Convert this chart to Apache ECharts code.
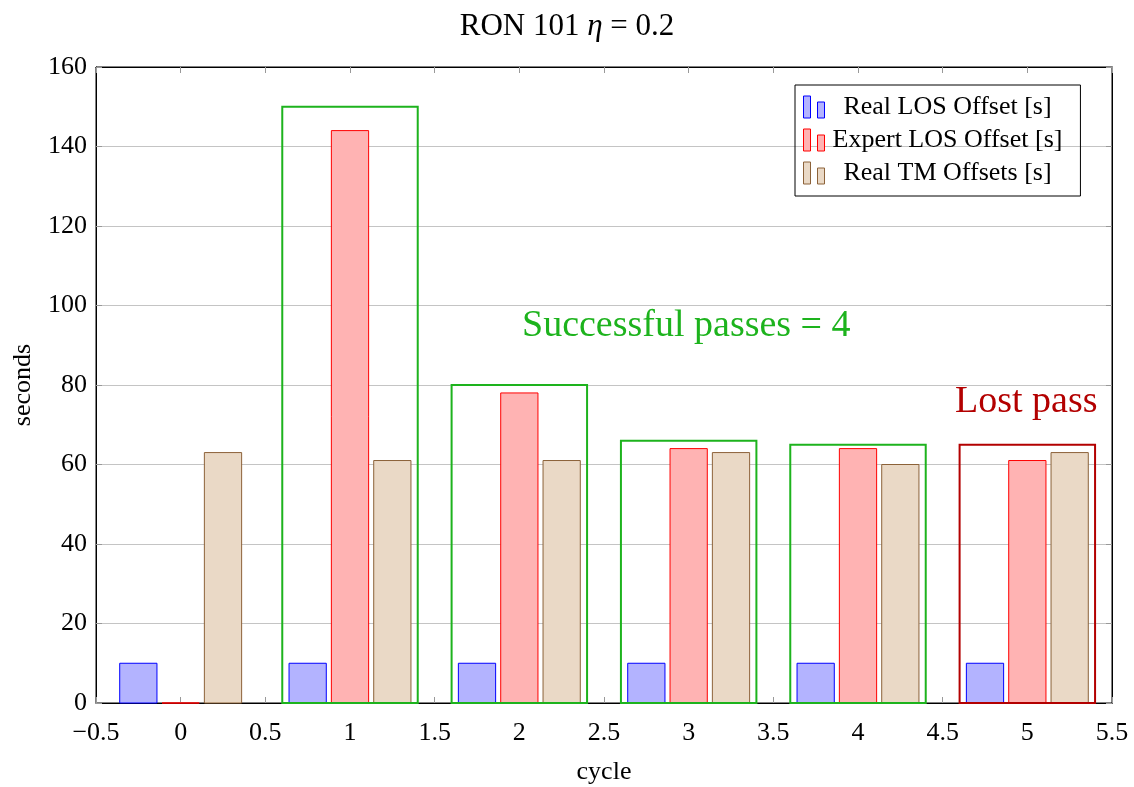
<!DOCTYPE html>
<html><head><meta charset="utf-8">
<script src="https://cdn.jsdelivr.net/npm/echarts@6/dist/echarts.min.js"></script>
<style>html,body{margin:0;padding:0;background:#fff}#c{width:1134px;height:787px}</style>
</head><body><div id="c"></div>
<script>
const cycles = [0, 1, 2, 3, 4, 5];
const realLOS = [10, 10, 10, 10, 10, 10];
const expertLOS = [0, 144, 78, 64, 64, 61];
const realTM = [63, 61, 61, 63, 60, 63];
const successCycles = [1, 2, 3, 4];
const successHeights = [150, 80, 66, 65];
const lostCycles = [5];
const lostHeights = [65];
const seriesNames = ['Real LOS Offset [s]', 'Expert LOS Offset [s]', 'Real TM Offsets [s]'];

const FONT = '"Liberation Serif", "DejaVu Serif", serif';
const BAR_W = 0.22;
const BOX_HALF = 0.4;

function barRender(params, api) {
  const x = api.value(0), y = api.value(1);
  const p0 = api.coord([x - BAR_W / 2, y]);
  const p1 = api.coord([x + BAR_W / 2, 0]);
  return {
    type: 'rect',
    shape: { x: p0[0], y: p0[1], width: p1[0] - p0[0], height: p1[1] - p0[1] },
    style: api.style()
  };
}
function boxRender(color) {
  return function (params, api) {
    const x = api.value(0), y = api.value(1);
    const p0 = api.coord([x - BOX_HALF, y]);
    const p1 = api.coord([x + BOX_HALF, 0]);
    return {
      type: 'rect',
      shape: { x: p0[0], y: p0[1], width: p1[0] - p0[0], height: p1[1] - p0[1] },
      style: { fill: 'none', stroke: color, lineWidth: 2 }
    };
  };
}
const fmt = v => (v < 0 ? '\u2212' + Math.abs(v) : String(v));
const legendIcon = 'path://M0,0H7V22H0Z M14,6H21V22H14Z';
const tickStyle = { show: true, inside: true, length: 6, lineStyle: { color: '#999' } };

const chart = echarts.init(document.getElementById('c'), null, { renderer: 'canvas' });
chart.setOption({
  animation: false,
  backgroundColor: '#fff',
  title: {
    text: 'RON 101 {i|\u03b7} = 0.2',
    left: 'center', top: 6,
    textStyle: {
      fontFamily: FONT, fontSize: 31, fontWeight: 'normal', color: '#000',
      rich: { i: { fontFamily: FONT, fontSize: 31, fontStyle: 'italic', color: '#000' } }
    }
  },
  legend: {
    orient: 'vertical', left: 795, top: 85,
    data: seriesNames,
    icon: legendIcon, itemWidth: 21, itemHeight: 22, itemGap: 7, itemStyle: { borderWidth: 1 },
    borderColor: '#000', borderWidth: 1, padding: [9, 18, 10, 8],
    formatter: n => '{c|' + n + '}',
    textStyle: {
      fontFamily: FONT, fontSize: 26, color: '#000',
      rich: { c: { fontFamily: FONT, fontSize: 26, color: '#000', width: 236, align: 'center' } }
    }
  },
  grid: { left: 96, right: 22, top: 67, bottom: 84, show: true, borderColor: '#000', borderWidth: 1, outerBoundsMode: 'none', containLabel: false },
  xAxis: [{
    type: 'value', min: -0.5, max: 5.5, interval: 0.5, position: 'bottom',
    name: 'cycle', nameLocation: 'middle', nameGap: 56,
    nameTextStyle: { fontFamily: FONT, fontSize: 26, color: '#000' },
    axisLine: { show: true, onZero: false, lineStyle: { color: '#000' } },
    axisTick: tickStyle,
    axisLabel: { fontFamily: FONT, fontSize: 26, color: '#000', margin: 17, formatter: fmt },
    splitLine: { show: false }
  }, {
    type: 'value', min: -0.5, max: 5.5, interval: 0.5, position: 'top',
    axisLine: { show: true, onZero: false, lineStyle: { color: '#000' } },
    axisTick: tickStyle,
    axisLabel: { show: false }, splitLine: { show: false }
  }],
  yAxis: [{
    type: 'value', min: 0, max: 160, interval: 20, position: 'left',
    name: 'seconds', nameLocation: 'middle', nameGap: 60, nameRotate: 90,
    nameTextStyle: { fontFamily: FONT, fontSize: 26, color: '#000' },
    axisLine: { show: true, onZero: false, lineStyle: { color: '#000' } },
    axisTick: tickStyle,
    axisLabel: { fontFamily: FONT, fontSize: 26, color: '#000', margin: 9, formatter: fmt },
    splitLine: { show: true, lineStyle: { color: '#c4c4c4', width: 1 } }
  }, {
    type: 'value', min: 0, max: 160, interval: 20, position: 'right',
    axisLine: { show: true, onZero: false, lineStyle: { color: '#000' } },
    axisTick: tickStyle,
    axisLabel: { show: false }, splitLine: { show: false }
  }],
  series: [
    {
      name: seriesNames[0], type: 'custom', renderItem: barRender,
      itemStyle: { color: '#b3b3ff', borderColor: '#0000ff', borderWidth: 1 },
      data: cycles.map((c, i) => [c - 0.25, realLOS[i]]), z: 3
    },
    {
      name: seriesNames[1], type: 'custom', renderItem: barRender,
      itemStyle: { color: '#ffb3b3', borderColor: '#ff0000', borderWidth: 1 },
      data: cycles.map((c, i) => [c, expertLOS[i]]), z: 3
    },
    {
      name: seriesNames[2], type: 'custom', renderItem: barRender,
      itemStyle: { color: '#ead9c6', borderColor: '#8c6239', borderWidth: 1 },
      data: cycles.map((c, i) => [c + 0.25, realTM[i]]), z: 3
    },
    {
      name: 'success', type: 'custom', renderItem: boxRender('#1db31d'),
      data: successCycles.map((c, i) => [c, successHeights[i]]), z: 4, silent: true
    },
    {
      name: 'lost', type: 'custom', renderItem: boxRender('#b30000'),
      data: lostCycles.map((c, i) => [c, lostHeights[i]]), z: 4, silent: true
    }
  ],
  graphic: [
    { type: 'text', x: 522, y: 326, z: 10, style: { text: 'Successful passes = 4', font: '38px ' + FONT, fill: '#1db31d', verticalAlign: 'middle', textVerticalAlign: 'middle' } },
    { type: 'text', x: 955, y: 402, z: 10, style: { text: 'Lost pass', font: '38px ' + FONT, fill: '#b30000', verticalAlign: 'middle', textVerticalAlign: 'middle' } }
  ]
});
</script></body></html>
